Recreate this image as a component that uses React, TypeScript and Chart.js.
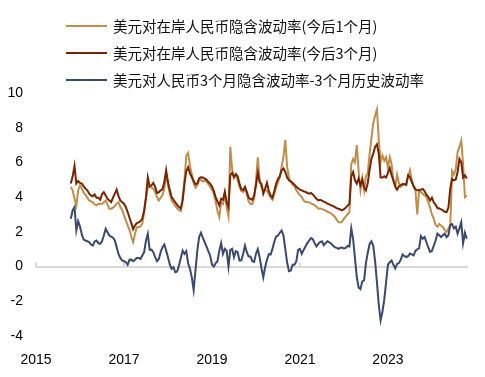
import React, { useEffect, useRef } from "react";
import { Chart, registerables } from "chart.js";

Chart.register(...registerables);

// Half-monthly observations (mid-Oct 2015 – mid-Oct 2024)
const dates: string[] = [
  "2015-10-16", "2015-11-01", "2015-11-16", "2015-12-01", "2015-12-16",
  "2016-01-01", "2016-01-16", "2016-02-01", "2016-02-16", "2016-03-01", "2016-03-16", "2016-04-01", "2016-04-16", "2016-05-01", "2016-05-16", "2016-06-01", "2016-06-16",
  "2016-07-01", "2016-07-16", "2016-08-01", "2016-08-16", "2016-09-01", "2016-09-16", "2016-10-01", "2016-10-16", "2016-11-01", "2016-11-16", "2016-12-01", "2016-12-16",
  "2017-01-01", "2017-01-16", "2017-02-01", "2017-02-16", "2017-03-01", "2017-03-16", "2017-04-01", "2017-04-16", "2017-05-01", "2017-05-16", "2017-06-01", "2017-06-16",
  "2017-07-01", "2017-07-16", "2017-08-01", "2017-08-16", "2017-09-01", "2017-09-16", "2017-10-01", "2017-10-16", "2017-11-01", "2017-11-16", "2017-12-01", "2017-12-16",
  "2018-01-01", "2018-01-16", "2018-02-01", "2018-02-16", "2018-03-01", "2018-03-16", "2018-04-01", "2018-04-16", "2018-05-01", "2018-05-16", "2018-06-01", "2018-06-16",
  "2018-07-01", "2018-07-16", "2018-08-01", "2018-08-16", "2018-09-01", "2018-09-16", "2018-10-01", "2018-10-16", "2018-11-01", "2018-11-16", "2018-12-01", "2018-12-16",
  "2019-01-01", "2019-01-16", "2019-02-01", "2019-02-16", "2019-03-01", "2019-03-16", "2019-04-01", "2019-04-16", "2019-05-01", "2019-05-16", "2019-06-01", "2019-06-16",
  "2019-07-01", "2019-07-16", "2019-08-01", "2019-08-16", "2019-09-01", "2019-09-16", "2019-10-01", "2019-10-16", "2019-11-01", "2019-11-16", "2019-12-01", "2019-12-16",
  "2020-01-01", "2020-01-16", "2020-02-01", "2020-02-16", "2020-03-01", "2020-03-16", "2020-04-01", "2020-04-16", "2020-05-01", "2020-05-16", "2020-06-01", "2020-06-16",
  "2020-07-01", "2020-07-16", "2020-08-01", "2020-08-16", "2020-09-01", "2020-09-16", "2020-10-01", "2020-10-16", "2020-11-01", "2020-11-16", "2020-12-01", "2020-12-16",
  "2021-01-01", "2021-01-16", "2021-02-01", "2021-02-16", "2021-03-01", "2021-03-16", "2021-04-01", "2021-04-16", "2021-05-01", "2021-05-16", "2021-06-01", "2021-06-16",
  "2021-07-01", "2021-07-16", "2021-08-01", "2021-08-16", "2021-09-01", "2021-09-16", "2021-10-01", "2021-10-16", "2021-11-01", "2021-11-16", "2021-12-01", "2021-12-16",
  "2022-01-01", "2022-01-16", "2022-02-01", "2022-02-16", "2022-03-01", "2022-03-16", "2022-04-01", "2022-04-16", "2022-05-01", "2022-05-16", "2022-06-01", "2022-06-16",
  "2022-07-01", "2022-07-16", "2022-08-01", "2022-08-16", "2022-09-01", "2022-09-16", "2022-10-01", "2022-10-16", "2022-11-01", "2022-11-16", "2022-12-01", "2022-12-16",
  "2023-01-01", "2023-01-16", "2023-02-01", "2023-02-16", "2023-03-01", "2023-03-16", "2023-04-01", "2023-04-16", "2023-05-01", "2023-05-16", "2023-06-01", "2023-06-16",
  "2023-07-01", "2023-07-16", "2023-08-01", "2023-08-16", "2023-09-01", "2023-09-16", "2023-10-01", "2023-10-16", "2023-11-01", "2023-11-16", "2023-12-01", "2023-12-16",
  "2024-01-01", "2024-01-16", "2024-02-01", "2024-02-16", "2024-03-01", "2024-03-16", "2024-04-01", "2024-04-16", "2024-05-01", "2024-05-16", "2024-06-01", "2024-06-16",
  "2024-07-01", "2024-07-16", "2024-08-01", "2024-08-16", "2024-09-01", "2024-09-16", "2024-10-01", "2024-10-16",
];

// 美元对在岸人民币隐含波动率(今后1个月)
const vol1M: number[] = [
  4.59, 4.39, 3.91, 3.53, 4.39,
  4.68, 4.49, 4.24, 4.14, 3.97, 3.81, 3.76, 3.7, 3.58, 3.53, 3.62, 3.6,
  3.62, 3.7, 3.81, 3.58, 3.33, 3.33, 3.39, 3.49, 3.62, 3.7, 3.43, 3.28,
  2.95, 2.66, 2.37, 2.12, 1.7, 1.41, 1.89, 2.27, 2.27, 2.31, 2.47, 3.14,
  3.91, 4.59, 4.59, 4.55, 4.47, 4.3, 4.01, 3.81, 3.97, 4.1, 4.5, 5.3,
  4.7, 4.2, 3.8, 3.65, 3.5, 3.35, 3.25, 3.2, 3.9, 5.0, 6.4, 6.55,
  5.8, 5.3, 4.8, 4.55, 4.7, 4.95, 5.0, 4.9, 4.95, 4.9, 4.75, 4.6,
  4.45, 4.2, 3.75, 3.2, 2.85, 3.7, 3.6, 4.2, 3.4, 2.9, 6.9, 5.6,
  5.1, 5.3, 5.0, 4.6, 4.35, 4.3, 4.45, 4.2, 3.75, 3.6, 3.6, 3.9,
  4.9, 6.3, 5.0, 4.59, 4.39, 4.43, 4.35, 4.16, 3.97, 3.85, 4.2, 4.55,
  4.87, 5.13, 5.74, 6.32, 7.3, 5.74, 5.13, 4.87, 4.72, 4.62, 4.39, 4.24,
  4.1, 4.01, 3.81, 3.72, 3.72, 3.7, 3.64, 3.6, 3.53, 3.45, 3.33, 3.35,
  3.31, 3.28, 3.22, 3.16, 3.12, 3.06, 2.97, 2.87, 2.7, 2.56, 2.54, 2.58,
  2.76, 2.89, 3.01, 3.14, 5.9, 6.2, 6.0, 7.0, 5.5, 4.4, 5.1, 4.4,
  5.2, 5.4, 6.5, 7.4, 8.25, 8.7, 9.05, 7.3, 6.0, 6.4, 6.1, 6.3,
  5.7, 6.3, 5.9, 4.9, 4.6, 5.3, 4.8, 4.6, 4.7, 4.75, 4.8, 5.2,
  5.55, 5.0, 4.6, 4.4, 3.0, 4.4, 4.3, 4.2, 4.1, 4.0, 3.7, 3.4,
  3.0, 2.75, 2.4, 2.3, 2.45, 2.35, 2.27, 2.1, 2.0, 2.2, 2.4, 5.5,
  5.3, 5.6, 6.6, 6.9, 7.25, 5.9, 4.0, 4.1,
];

// 美元对在岸人民币隐含波动率(今后3个月)
const vol3M: number[] = [
  4.78, 5.2, 5.8, 4.78, 4.93,
  4.82, 4.78, 4.62, 4.49, 4.39, 4.2, 4.1, 4.05, 4.16, 3.97, 3.97, 3.85,
  4.16, 4.28, 4.1, 3.91, 3.81, 3.72, 3.97, 4.2, 4.43, 4.05, 3.81, 3.7,
  3.62, 3.43, 3.14, 2.81, 2.5, 2.15, 2.37, 2.5, 2.54, 2.62, 2.76, 3.24,
  4.0, 5.13, 4.62, 4.68, 4.82, 4.59, 4.24, 4.28, 4.39, 4.45, 4.87, 5.55,
  4.87, 4.39, 4.0, 3.85, 3.7, 3.56, 3.43, 3.35, 3.81, 4.78, 5.51, 5.72,
  5.36, 5.16, 4.93, 4.74, 4.78, 5.09, 5.14, 5.13, 5.07, 5.01, 4.87, 4.78,
  4.62, 4.35, 4.0, 3.76, 3.53, 3.91, 3.85, 4.3, 3.72, 3.43, 5.26, 5.4,
  5.16, 5.32, 5.2, 4.78, 4.45, 4.41, 4.59, 4.3, 3.97, 3.89, 3.85, 4.1,
  4.68, 5.4, 4.87, 4.76, 4.2, 4.49, 4.82, 4.35, 4.1, 3.97, 4.35, 4.78,
  5.05, 5.2, 5.55, 5.65, 5.45, 5.13, 4.97, 4.91, 4.82, 4.72, 4.59, 4.51,
  4.43, 4.39, 4.34, 4.3, 4.24, 4.2, 4.24, 4.16, 4.03, 3.91, 3.81, 3.85,
  3.8, 3.74, 3.7, 3.62, 3.58, 3.53, 3.49, 3.43, 3.37, 3.33, 3.29, 3.24,
  3.31, 3.39, 3.51, 3.62, 5.2, 5.45, 4.97, 4.78, 5.07, 4.68, 5.01, 4.55,
  4.39, 4.82, 5.59, 6.22, 6.51, 6.9, 7.05, 6.51, 5.13, 5.13, 5.2, 5.13,
  5.4, 5.68, 5.26, 4.97, 4.62, 4.43, 4.62, 4.7, 4.76, 4.74, 4.7, 5.26,
  5.16, 4.87, 4.64, 4.45, 4.39, 4.39, 4.43, 4.47, 4.34, 4.14, 4.01, 3.81,
  3.97, 3.7, 3.56, 3.37, 3.35, 3.29, 3.24, 3.16, 3.14, 3.4, 4.5, 5.05,
  4.97, 5.01, 5.45, 6.2, 6.0, 5.13, 5.26, 5.07,
];

// 美元对人民币3个月隐含波动率-3个月历史波动率
const volSpread: number[] = [
  2.76, 3.24, 3.43, 2.08, 2.62,
  2.31, 1.85, 1.56, 1.5, 1.46, 1.41, 1.27, 1.21, 1.45, 1.5, 1.35, 1.31,
  1.46, 1.79, 2.18, 1.98, 1.79, 1.73, 1.66, 1.5, 1.12, 0.73, 0.5, 0.35,
  0.31, 0.25, 0.1, 0.39, 0.4, 0.31, 0.39, 0.5, 0.5, 0.44, 0.64, 0.83,
  1.5, 1.89, 0.96, 0.98, 0.83, 0.54, 0.31, 0.44, 0.83, 1.12, 1.27, 0.92,
  0.54, 0.12, -0.13, -0.04, -0.33, -0.29, 0.06, 0.5, 0.92, 0.73, 0.89, 0.19,
  -0.13, -0.62, -1.35, -0.23, 0.92, 1.7, 1.95, 1.66, 1.41, 1.16, 0.89, 0.64,
  0.12, 0.0, 0.19, 0.31, 0.92, 1.35, 0.73, 1.02, 0.92, 0.0, 0.96, 1.02,
  0.54, 0.89, 0.83, 0.35, 0.35, 0.73, 1.21, 0.83, 0.58, 0.58, 0.31, 0.27,
  0.73, 1.0, 0.54, -0.08, -0.62, -0.04, 0.39, 0.71, 0.69, 1.02, 1.43, 1.73,
  1.79, 1.95, 2.08, 1.79, 1.02, 0.23, -0.27, -0.23, 0.1, 0.1, 0.29, 0.96,
  1.02, 0.73, 0.96, 1.16, 1.35, 1.5, 1.64, 1.58, 1.35, 1.16, 1.31, 1.41,
  1.46, 1.23, 1.35, 1.46, 1.39, 1.33, 1.21, 1.12, 1.08, 1.02, 1.08, 1.1,
  1.04, 1.08, 1.19, 1.16, 2.2, 1.6, 0.5, -0.6, -1.2, -1.3, -0.85, -0.8,
  0.2, 0.8, 1.3, 1.45, 1.2, 0.3, -0.9, -2.2, -3.1, -2.6, -1.9, -0.9,
  0.1, 0.25, 0.35, 0.1, -0.1, 0.15, 0.2, 0.4, 0.7, 0.6, 0.55, 0.6,
  0.75, 0.7, 0.65, 0.9, 1.0, 1.05, 1.75, 1.6, 1.7, 1.4, 1.1, 0.85,
  0.9, 1.2, 1.5, 1.9, 1.8, 1.7, 1.8, 1.9, 1.7, 1.8, 2.4, 2.45,
  2.2, 2.3, 1.9, 2.2, 2.55, 1.35, 1.95, 1.6,
];

const xTickYears: number[] = [2015, 2017, 2019, 2021, 2023];
const yTicks: number[] = [-4, -2, 0, 2, 4, 6, 8, 10];

const seriesLabels: string[] = [
  "美元对在岸人民币隐含波动率(今后1个月)",
  "美元对在岸人民币隐含波动率(今后3个月)",
  "美元对人民币3个月隐含波动率-3个月历史波动率",
];
const seriesColors: string[] = ["#C28D4A", "#7A2300", "#3B4970"];

const toYear = (d: string): number => {
  const [y, mo, day] = d.split("-").map(Number);
  return y + (mo - 1 + (day - 1) / 30) / 12;
};
const toPoints = (vals: number[]) => dates.map((d, i) => ({ x: toYear(d), y: vals[i] }));

const TICK_FONT = "'Liberation Sans', Arial, Helvetica, sans-serif";
const CJK_FONT = "'Noto Sans CJK SC', 'Noto Sans', sans-serif";

const zeroTickPlugin = {
  id: "zeroTicks",
  beforeDatasetsDraw(chart: any) {
    const xs = chart.scales.x;
    const ys = chart.scales.y;
    const y0 = ys.getPixelForValue(0);
    const ctx = chart.ctx;
    ctx.save();
    ctx.strokeStyle = "#d9d9d9";
    ctx.lineWidth = 2;
    xTickYears.forEach((v) => {
      const px = xs.getPixelForValue(v);
      ctx.beginPath();
      ctx.moveTo(px, y0 - 4);
      ctx.lineTo(px, y0 + 1);
      ctx.stroke();
    });
    ctx.restore();
  },
};

export default function App() {
  const canvasRef = useRef<HTMLCanvasElement | null>(null);

  useEffect(() => {
    if (!canvasRef.current) return;
    const all = [vol1M, vol3M, volSpread];
    const chart = new Chart(canvasRef.current, {
      type: "line",
      data: {
        datasets: all.map((vals, i) => ({
          label: seriesLabels[i],
          data: toPoints(vals),
          borderColor: seriesColors[i],
          backgroundColor: seriesColors[i],
          borderWidth: 2,
          pointRadius: 0,
          tension: 0,
          fill: false,
          order: i === 0 ? 2 : i === 1 ? 1 : 0,
        })),
      },
      options: {
        animation: false,
        responsive: false,
        devicePixelRatio: 1,
        layout: { padding: { top: 93, right: 17, bottom: 0, left: 0 } },
        plugins: { legend: { display: false }, tooltip: { enabled: false } },
        scales: {
          x: {
            type: "linear",
            min: 2015,
            max: 2024.82,
            afterBuildTicks: (s: any) => {
              s.ticks = xTickYears.map((v) => ({ value: v }));
            },
            afterFit: (s: any) => {
              s.height = 41;
            },
            grid: { display: false },
            border: { display: false },
            ticks: {
              autoSkip: false,
              maxRotation: 0,
              padding: 8,
              color: "#000",
              font: { family: TICK_FONT, size: 14 },
              callback: (v: any) => String(v),
            },
          },
          y: {
            min: -4,
            max: 10,
            afterBuildTicks: (s: any) => {
              s.ticks = yTicks.map((v) => ({ value: v }));
            },
            afterFit: (s: any) => {
              s.width = 36;
            },
            grid: {
              drawTicks: false,
              lineWidth: 2,
              color: (c: any) => (c.tick && c.tick.value === 0 ? "#d9d9d9" : "rgba(0,0,0,0)"),
            },
            border: { display: false },
            ticks: {
              padding: 13,
              color: "#000",
              font: { family: TICK_FONT, size: 14 },
              callback: (v: any) => String(v),
            },
          },
        },
      },
      plugins: [zeroTickPlugin],
    });
    return () => chart.destroy();
  }, []);

  const rowCenters = [26, 53, 80];

  return (
    <div style={{ position: "fixed", left: 0, top: 0, width: 485, height: 377, background: "#fff" }}>
      <canvas ref={canvasRef} width={485} height={377} style={{ position: "absolute", left: 0, top: 0 }} />
      {seriesLabels.map((label, i) => (
        <div
          key={label}
          style={{
            position: "absolute",
            left: 66,
            top: rowCenters[i] - 10,
            height: 20,
            display: "flex",
            alignItems: "center",
            whiteSpace: "nowrap",
          }}
        >
          <div style={{ width: 41, height: 2, background: seriesColors[i], marginRight: 6 }} />
          <span style={{ fontFamily: CJK_FONT, fontSize: 14.5, lineHeight: "20px", color: "#111" }}>{label}</span>
        </div>
      ))}
    </div>
  );
}
